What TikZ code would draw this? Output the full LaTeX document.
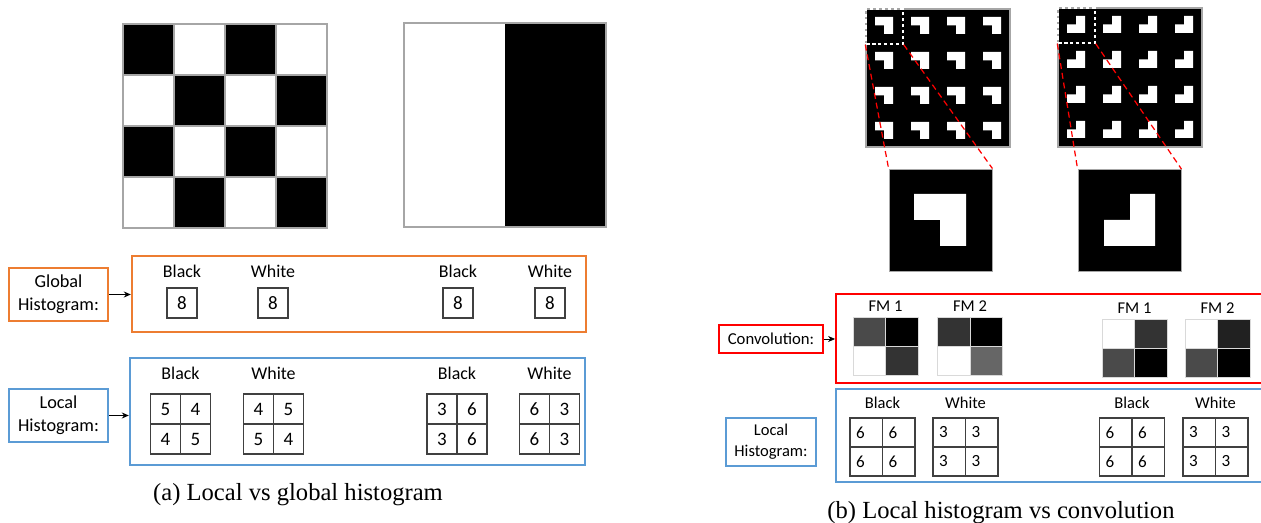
\documentclass[tikz,border=0pt]{standalone}
\usepackage{fontspec}
\setmainfont{Liberation Serif}
\setsansfont{Carlito}
\usetikzlibrary{arrows.meta, positioning, calc}
\definecolor{corange}{HTML}{ED7D31}
\definecolor{cblue}{HTML}{5B9BD5}
\definecolor{cred}{HTML}{FF0000}
\definecolor{cframe}{HTML}{A6A6A6}
\definecolor{cline}{HTML}{404040}
\tikzset{
  every picture/.style={font=\sffamily, line width=0.6pt},
  tag/.style={draw=#1, line width=1.4pt, align=center, inner sep=0pt, font=\sffamily\fontsize{10.4}{13}\selectfont},
  panel/.style={draw=#1, line width=1.4pt, inner sep=0pt},
  head/.style={font=\sffamily\fontsize{10.2}{12}\selectfont},
  headb/.style={font=\sffamily\fontsize{9.4}{11}\selectfont},
  count/.style={draw=cline, line width=0.7pt, minimum size=0.6cm, inner sep=0pt, font=\sffamily\fontsize{10.8}{12}\selectfont},
  countb/.style={draw=cline, line width=0.7pt, minimum width=0.65cm, minimum height=0.58cm, inner xsep=0.12cm, inner ysep=0pt, text width=0.41cm, align=left, font=\sffamily\fontsize{9.7}{11}\selectfont},
  fmcell/.style={draw=black!15, line width=0.4pt, fill=black!#1, minimum width=0.65cm, minimum height=0.58cm, inner sep=0pt},
  arrow/.style={-{Stealth[length=1.4mm, width=1.2mm]}, line width=0.5pt},
  zoomline/.style={cred, line width=0.7pt, dash pattern=on 3.4pt off 2.2pt},
  selbox/.style={draw=white, line width=0.8pt, dash pattern=on 2pt off 1.4pt, inner sep=0pt, minimum width=0.74cm, minimum height=0.7cm},
  zoombox/.style={fill=black, draw=cframe, line width=0.5pt, inner sep=0pt, minimum width=2.06cm, minimum height=2.04cm},
  caption/.style={font=\rmfamily\fontsize{14}{16}\selectfont},
}

\begin{document}
\begin{tikzpicture}[x=0.02cm, y=-0.02cm]
  \useasboundingbox (0,0) rectangle (1261,523);
  \clip (0,0) rectangle (1261,523);

  % (a) checkerboard and half image
  \foreach \i in {0,...,3}
    \foreach \j in {0,...,3} {
      \pgfmathtruncatemacro\odd{mod(\i+\j,2)}
      \ifnum\odd=0 \fill (123+51*\i,24+51*\j) rectangle ++(51,51); \fi
    }
  \foreach \k in {1,2,3} {
    \draw[cframe] (123+51*\k,24) -- (123+51*\k,228);
    \draw[cframe] (123,24+51*\k) -- (327,24+51*\k);
  }
  \draw[cframe] (123,24) rectangle (327,228);
  \fill (505,23) rectangle (606,227);
  \draw[cframe] (404,23) rectangle (606,227);

  % (a) global histogram
  \node[tag=corange, minimum width=1.98cm, minimum height=1.06cm] (glob) at (58.5,294.5) {Global\\Histogram:};
  \node[panel=corange, minimum width=9.08cm, minimum height=1.52cm] (globbox) at (359,294) {};
  \draw[arrow] (glob.east) -- (glob.east -| globbox.west);
  \foreach \cx/\hd [count=\n] in {182/Black, 273/White, 458/Black, 550/White} {
    \node[head] (gh\n) at (\cx,271) {\hd};
    \node[count] (gc\n) at (\cx,303) {8};
  }

  % (a) local histogram
  \node[tag=cblue, minimum width=1.98cm, minimum height=1.06cm] (loc) at (58.5,415.5) {Local\\Histogram:};
  \node[panel=cblue, minimum width=9.1cm, minimum height=2.14cm] (locbox) at (357.5,411.5) {};
  \draw[arrow] (loc.east) -- (loc.east -| locbox.west);
  \foreach \cx/\hd/\va/\vb/\vc/\vd [count=\n] in {180.5/Black/5/4/4/5, 273.5/White/4/5/5/4, 457/Black/3/6/3/6, 549.5/White/6/3/6/3} {
    \node[head] (lh\n) at (\cx,373) {\hd};
    \node[count] (lc\n-1) at (\cx-15,409) {\va};
    \node[count] (lc\n-2) at (\cx+15,409) {\vb};
    \node[count] (lc\n-3) at (\cx-15,439) {\vc};
    \node[count] (lc\n-4) at (\cx+15,439) {\vd};
  }

  % (b) patterns
  \fill (866,9) rectangle (1010,147);
  \foreach \i in {0,...,3}
    \foreach \j in {0,...,3}
      \fill[white] (875+36*\i,17+35*\j) -- ++(18,0) -- ++(0,17) -- ++(-9,0) -- ++(0,-8.5) -- ++(-9,0) -- cycle;
  \draw[cframe] (866,9) rectangle (1010,147);
  \fill (1058,8) rectangle (1202,147);
  \foreach \i in {0,...,3}
    \foreach \j in {0,...,3}
      \fill[white] (1076+36*\i,16+35*\j) -- ++(9,0) -- ++(0,17) -- ++(-18,0) -- ++(0,-8.5) -- ++(9,0) -- cycle;
  \draw[cframe] (1058,8) rectangle (1202,147);

  \node[selbox] (sel1) at (884.5,26.5) {};
  \node[selbox] (sel2) at (1076.5,25.5) {};
  \node[zoombox] (zoom1) at (940.5,220) {};
  \fill[white] (914,194) -- (966,194) -- (966,246) -- (940,246) -- (940,220) -- (914,220) -- cycle;
  \node[zoombox] (zoom2) at (1129.5,220.5) {};
  \fill[white] (1130,194) -- (1155,194) -- (1155,246) -- (1104,246) -- (1104,220) -- (1130,220) -- cycle;
  \draw[zoomline] (sel1.south west) -- (zoom1.north west);
  \draw[zoomline] (sel1.south east) -- (zoom1.north east);
  \draw[zoomline] (sel2.south west) -- (zoom2.north west);
  \draw[zoomline] (sel2.south east) -- (zoom2.north east);

  % (b) convolution
  \node[tag=cred, line width=1.1pt, minimum width=2.08cm, minimum height=0.56cm, font=\sffamily\fontsize{9.5}{11}\selectfont] (conv) at (771,339) {Convolution:};
  \node[panel=cred, line width=1.1pt, minimum width=8.8cm, minimum height=1.78cm] (convbox) at (1056,338.5) {};
  \draw[arrow] (conv.east) -- (conv.east -| convbox.west);
  \foreach \cx/\cy/\hd/\ga/\gb/\gc/\gd [count=\n] in {885.5/346/FM 1/71/100/0/80, 970/346/FM 2/80/100/0/60, 1134.5/348/FM 1/0/80/71/100, 1217.5/348/FM 2/0/87/71/100} {
    \node[headb] (fh\n) at (\cx,\cy-40) {\hd};
    \node[fmcell=\ga] (fm\n-1) at (\cx-16.25,\cy-14.5) {};
    \node[fmcell=\gb] (fm\n-2) at (\cx+16.25,\cy-14.5) {};
    \node[fmcell=\gc] (fm\n-3) at (\cx-16.25,\cy+14.5) {};
    \node[fmcell=\gd] (fm\n-4) at (\cx+16.25,\cy+14.5) {};
  }

  % (b) local histogram
  \node[tag=cblue, line width=0.85pt, minimum width=1.8cm, minimum height=0.96cm, font=\sffamily\fontsize{9.4}{12}\selectfont] (locb) at (771,442) {Local\\Histogram:};
  \node[panel=cblue, line width=0.85pt, minimum width=8.8cm, minimum height=1.86cm] (locbbox) at (1056,435.5) {};
  \foreach \cx/\hd/\v [count=\n] in {882.5/Black/6, 965.5/White/3, 1132/Black/6, 1215.5/White/3} {
    \node[headb] (bh\n) at (\cx,403) {\hd};
    \node[countb] (bc\n-1) at (\cx-16.25,432.5) {\v};
    \node[countb] (bc\n-2) at (\cx+16.25,432.5) {\v};
    \node[countb] (bc\n-3) at (\cx-16.25,461.5) {\v};
    \node[countb] (bc\n-4) at (\cx+16.25,461.5) {\v};
  }

  % captions
  \node[caption] (capa) at (298,495) {(a) Local vs global histogram};
  \node[caption] (capb) at (1001,513) {(b) Local histogram vs convolution};
\end{tikzpicture}
\end{document}
